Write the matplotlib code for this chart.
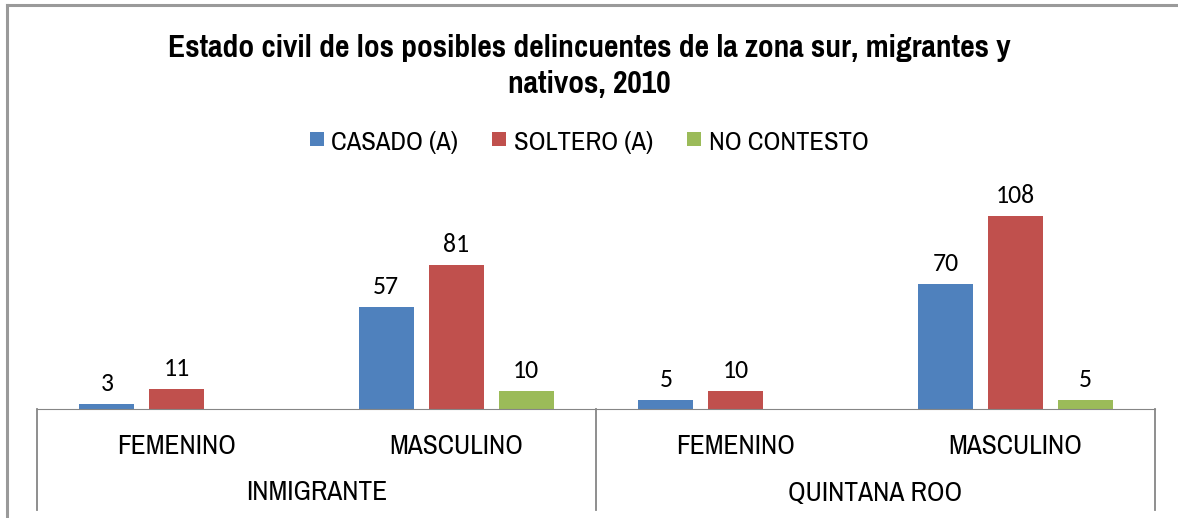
import numpy as np
import matplotlib.pyplot as plt
from matplotlib.lines import Line2D

# data
groups = ['INMIGRANTE', 'QUINTANA ROO']
sexes = ['FEMENINO', 'MASCULINO', 'FEMENINO', 'MASCULINO']
series = ['CASADO (A)', 'SOLTERO (A)', 'NO CONTESTO']
casado = [3, 57, 5, 70]
soltero = [11, 81, 10, 108]
no_contesto = [None, 10, None, 5]
colors = ['#4F81BD', '#C0504D', '#9BBB59']

narrow = ['Pragati Narrow', 'DejaVu Sans']
label_font = ['Carlito', 'DejaVu Sans']

fig = plt.figure(figsize=(11.78, 5.18), dpi=100)
H = 518.0
W = 1178.0

# outer chart frame
fig.add_artist(Line2D([7 / W, 7 / W], [0, 1 - 5 / H], color='#9a9a9a', lw=2.2))
fig.add_artist(Line2D([7 / W, 1], [1 - 5 / H, 1 - 5 / H], color='#9a9a9a', lw=2.2))

ax = fig.add_axes([37 / W, 1 - 409 / H, (1155 - 37) / W, (409 - 195) / H])
x = np.arange(len(sexes))
width = 0.197
step = 0.25
for i, (vals, name) in enumerate(zip([casado, soltero, no_contesto], series)):
    xs = [xx + (i - 1) * step for xx, v in zip(x, vals) if v is not None]
    vs = [v for v in vals if v is not None]
    bars = ax.bar(xs, vs, width, color=colors[i], label=name, zorder=2)
    for b, v in zip(bars, vs):
        ax.text(b.get_x() + b.get_width() / 2, v + 5, str(v), ha='center', va='bottom',
                fontsize=18.5, family=label_font, clip_on=False)

ax.set_xlim(-0.5, 3.5)
ax.set_ylim(0, 120)
for s in ['top', 'left', 'right']:
    ax.spines[s].set_visible(False)
ax.spines['bottom'].set_color('#868686')
ax.set_xticks([])
ax.set_yticks([])

# two-level category axis
bottom_frac = -(510 - 409) / (409 - 195)
for xv in [-0.5, 1.5, 3.5]:
    ax.add_artist(Line2D([xv, xv], [0, bottom_frac], transform=ax.get_xaxis_transform(),
                         color='#868686', lw=1.3, clip_on=False))
for xx, s in zip(x, sexes):
    ax.text(xx, -(446 - 409) / (409 - 195), s, transform=ax.get_xaxis_transform(),
            ha='center', va='center', fontsize=21.5, family=narrow)
for gi, g in enumerate(groups):
    ax.text(0.5 + 2 * gi, -(493 - 409) / (409 - 195), g, transform=ax.get_xaxis_transform(),
            ha='center', va='center', fontsize=21.5, family=narrow)

fig.text(0.5, 1 - 66 / H, 'Estado civil de los posibles delincuentes de la zona sur, migrantes y\nnativos, 2010',
         ha='center', va='center', fontsize=24.7, fontweight='bold', family=narrow,
         linespacing=1.32)

fig.legend(loc='center', bbox_to_anchor=(0.5, 1 - 142 / H), ncol=3, frameon=False,
           prop={'family': narrow, 'size': 20.8}, handlelength=0.48,
           handleheight=0.4, handletextpad=0.25, columnspacing=1.2)

fig.savefig('out.png', dpi=100)
